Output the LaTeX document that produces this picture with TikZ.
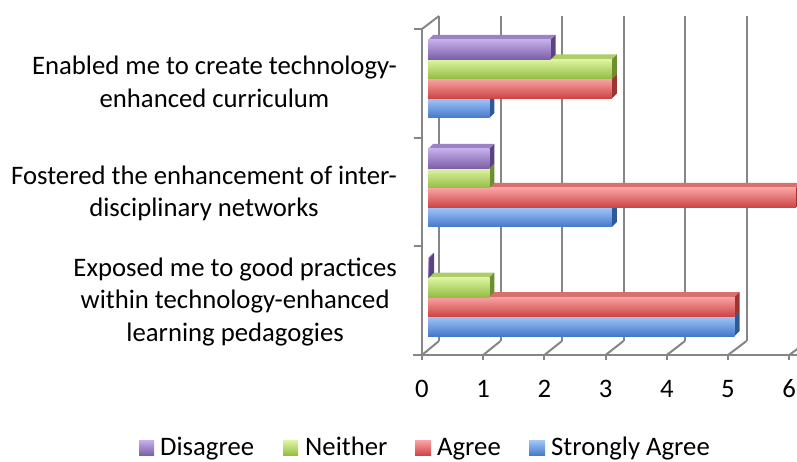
\documentclass[tikz,border=0pt]{standalone}
\usepackage{fontspec}
\setmainfont{Carlito}
\usepackage{tikz}
\usetikzlibrary{positioning}

\definecolor{gridgray}{HTML}{868686}
\definecolor{disT}{HTML}{C4AEEA}
\definecolor{disB}{HTML}{7B5EA7}
\definecolor{disF}{HTML}{9A82C4}
\definecolor{disS}{HTML}{5A4380}
\definecolor{neiT}{HTML}{DDF5A0}
\definecolor{neiB}{HTML}{93BC42}
\definecolor{neiF}{HTML}{AECC6A}
\definecolor{neiS}{HTML}{6E8F30}
\definecolor{agrT}{HTML}{F9A3A3}
\definecolor{agrB}{HTML}{CC4444}
\definecolor{agrF}{HTML}{D87070}
\definecolor{agrS}{HTML}{9E3333}
\definecolor{sagT}{HTML}{A0C4F8}
\definecolor{sagB}{HTML}{4479C9}
\definecolor{sagF}{HTML}{6E96D0}
\definecolor{sagS}{HTML}{2F5A99}

% one 3d bar: value, top edge, series
\newcommand{\chartbar}[3]{%
  \pgfmathsetmacro{\barend}{428+61.3*#1}%
  \fill[#3F] (428,#2) -- (433,#2-5) -- (\barend+5,#2-5) -- (\barend,#2) -- cycle;
  \fill[#3S] (\barend,#2) -- (\barend+5,#2-5) -- (\barend+5,#2+14.5) -- (\barend,#2+19.5) -- cycle;
  \shade[top color=#3T,bottom color=#3B] (428,#2) rectangle (\barend,#2+19.5);
}

\begin{document}
\begin{tikzpicture}[x=1pt,y=-1pt,
    font=\fontsize{26.7}{32.5}\selectfont,
    grid/.style={draw=gridgray,line width=2pt},
    catlabel/.style={align=center,anchor=east,inner sep=0pt},
    numlabel/.style={anchor=base,inner sep=0pt},
    keylabel/.style={anchor=base west,inner sep=0pt}]
  \useasboundingbox (0,0) rectangle (797,462);

  % back wall and floor
  \draw[grid] (439,16) -- (439,341);
  \draw[grid] (500.5,16) -- (500.5,341);
  \draw[grid] (562,16) -- (562,341);
  \draw[grid] (623.5,16) -- (623.5,341);
  \draw[grid] (685,16) -- (685,341);
  \draw[grid] (746.5,16) -- (746.5,341);
  \draw[grid] (422,355) -- (439,341);
  \draw[grid] (483.2,355) -- (500.5,341);
  \draw[grid] (544.4,355) -- (562,341);
  \draw[grid] (605.6,355) -- (623.5,341);
  \draw[grid] (666.8,355) -- (685,341);
  \draw[grid] (728,355) -- (746.5,341);
  \draw[grid] (789.2,355) -- (808,341);
  % axes
  \draw[grid] (413,355) -- (797,355);
  \draw[grid] (422,29) -- (422,360);
  \draw[grid] (422,29) -- (439,16);
  \draw[grid] (414,29) -- (422,29);
  \draw[grid] (414,138) -- (422,138);
  \draw[grid] (414,246.5) -- (422,246.5);
  \draw[grid] (483.2,355) -- (483.2,360);
  \draw[grid] (544.4,355) -- (544.4,360);
  \draw[grid] (605.6,355) -- (605.6,360);
  \draw[grid] (666.8,355) -- (666.8,360);
  \draw[grid] (728,355) -- (728,360);
  \draw[grid] (789.2,355) -- (789.2,360);

  % bars, lowest first
  \chartbar{1}{98.5}{sag}
  \chartbar{3}{79}{agr}
  \chartbar{3}{59.5}{nei}
  \chartbar{2}{40}{dis}
  \chartbar{3}{207.5}{sag}
  \chartbar{6}{188}{agr}
  \chartbar{1}{168.5}{nei}
  \chartbar{1}{149}{dis}
  \chartbar{5}{316.5}{sag}
  \chartbar{5}{297}{agr}
  \chartbar{1}{277.5}{nei}
  \chartbar{0.02}{258}{dis}

  \node[catlabel] (cat1) at (397,82) {Enabled me to create technology-\\enhanced curriculum};
  \node[catlabel] (cat2) at (397,193.5) {Fostered the enhancement of inter-\\disciplinary networks};
  \node[catlabel] (cat3) at (397,302) {Exposed me to good practices\\within technology-enhanced\\learning pedagogies};

  \node[numlabel] (n0) at (422,397) {0};
  \node[numlabel] (n1) at (483.2,397) {1};
  \node[numlabel] (n2) at (544.4,397) {2};
  \node[numlabel] (n3) at (605.6,397) {3};
  \node[numlabel] (n4) at (666.8,397) {4};
  \node[numlabel] (n5) at (728,397) {5};
  \node[numlabel] (n6) at (789.2,397) {6};

  % legend
  \shade[top color=disT,bottom color=disB] (139,440.5) rectangle (154,455.5);
  \node[keylabel] (kdis) at (160,455.5) {Disagree};
  \shade[top color=neiT,bottom color=neiB] (283,440.5) rectangle (298,455.5);
  \node[keylabel] (knei) at (305,455.5) {Neither};
  \shade[top color=agrT,bottom color=agrB] (415,440.5) rectangle (431,455.5);
  \node[keylabel] (kagr) at (437,455.5) {Agree};
  \shade[top color=sagT,bottom color=sagB] (529,440.5) rectangle (545,455.5);
  \node[keylabel] (ksag) at (551,455.5) {Strongly Agree};
\end{tikzpicture}
\end{document}
